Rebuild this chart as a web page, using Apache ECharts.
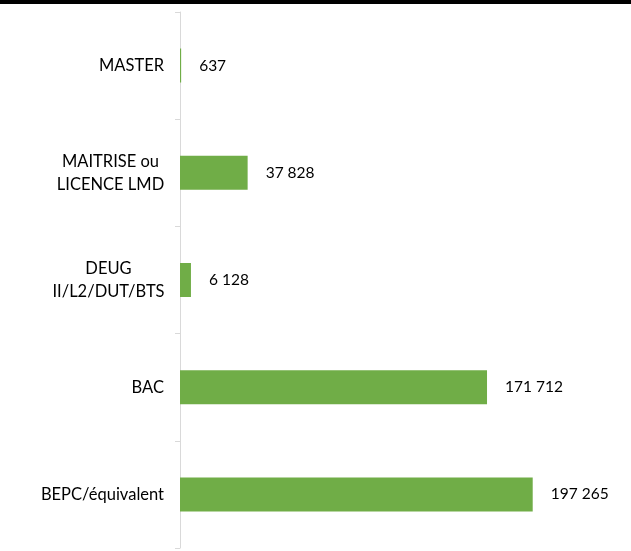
<!DOCTYPE html>
<html>
<head>
<meta charset="UTF-8"/>
<script src="https://cdn.jsdelivr.net/npm/echarts@6/dist/echarts.min.js"></script>
<style>
  html, body { margin: 0; padding: 0; background: #ffffff; }
  #c { width: 631px; height: 551px; }
</style>
</head>
<body>
<div id="c"></div>
<script>
// niveaux, du haut vers le bas
const categories = ["MASTER", "MAITRISE ou\nLICENCE LMD", "DEUG\nII/L2/DUT/BTS", "BAC", "BEPC/équivalent"];
const values = [637, 37828, 6128, 171712, 197265];

const fmt = (v) => String(v).replace(/\B(?=(\d{3})+(?!\d))/g, " ");

const chart = echarts.init(document.getElementById("c"), null, { renderer: "canvas" });

chart.setOption({
    animation: false,
    backgroundColor: "#ffffff",
    textStyle: { fontFamily: "Lato" },
    graphic: [{
        type: "rect",
        left: 0, top: 0,
        shape: { width: 631, height: 4 },
        style: { fill: "#000000" }
    }],
    grid: { left: 180, top: 12, bottom: 3, width: 447, containLabel: false },
    xAxis: {
        type: "value",
        min: 0,
        max: 250000,
        show: false
    },
    yAxis: {
        type: "category",
        inverse: true,
        data: categories,
        axisLine: { show: true, lineStyle: { color: "#d9d9d9", width: 1 } },
        axisTick: { show: true, length: 5, lineStyle: { color: "#d9d9d9" } },
        axisLabel: {
            margin: 16,
            fontSize: 16.5,
            color: "#000000",
            lineHeight: 23,
            formatter: (v) => {
                if (v.indexOf("\n") < 0) return v;
                const key = v.startsWith("DEUG") ? "d" : "m";
                return v.split("\n").map(s => "{" + key + "|" + s + "}").join("\n");
            },
            rich: {
                m: { width: 107, align: "center", fontSize: 16.5, lineHeight: 23, color: "#000000", fontFamily: "Lato" },
                d: { width: 111, align: "center", fontSize: 16.5, lineHeight: 23, color: "#000000", fontFamily: "Lato" }
            }
        },
        splitLine: { show: false }
    },
    series: [{
        type: "bar",
        data: values,
        barWidth: 34,
        itemStyle: { color: "#70ad47" },
        label: {
            show: true,
            position: "right",
            distance: 18,
            fontSize: 15.5,
            color: "#000000",
            fontFamily: "Lato",
            formatter: (p) => fmt(p.value)
        }
    }]
});
</script>
</body>
</html>
